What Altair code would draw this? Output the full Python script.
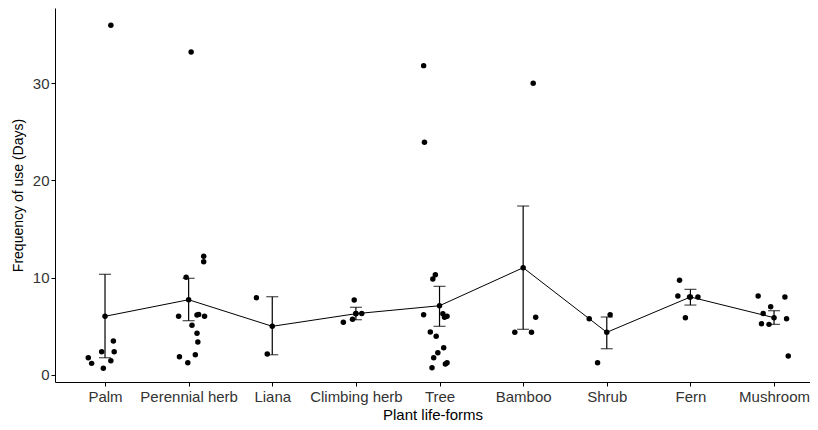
import altair as alt
import pandas as pd

categories = ["Palm", "Perennial herb", "Liana", "Climbing herb", "Tree",
              "Bamboo", "Shrub", "Fern", "Mushroom"]

# observed values per life-form (days) and their horizontal jitter (category units)
palm_vals = [36.0, 1.73, 1.15, 0.64, 2.35, 1.42, 2.35, 3.45]
palm_jit = [0.07, -0.20, -0.16, -0.02, -0.04, 0.07, 0.11, 0.10]
herb_vals = [33.25, 10.02, 12.2, 11.63, 6.0, 6.13, 6.2, 6.0, 5.07, 4.25, 3.35, 1.84, 2.04, 1.22]
herb_jit = [0.03, -0.03, 0.18, 0.18, -0.12, 0.10, 0.12, 0.19, 0.04, 0.10, 0.11, -0.11, 0.08, -0.01]
liana_vals = [7.92, 2.11]
liana_jit = [-0.19, -0.06]
climb_vals = [7.68, 5.38, 5.69, 6.3, 6.3]
climb_jit = [-0.02, -0.15, -0.04, 0.0, 0.07]
tree_vals = [31.84, 23.94, 10.29, 9.85, 6.17, 6.27, 6.0, 5.9, 4.38, 3.94, 2.77, 2.25, 1.73, 1.22, 1.08, 0.7]
tree_jit = [-0.19, -0.18, -0.05, -0.08, -0.19, 0.04, 0.09, 0.06, -0.11, -0.04, 0.05, -0.02, -0.07, 0.09, 0.07, -0.09]
bamboo_vals = [30.02, 5.9, 4.35, 4.35]
bamboo_jit = [0.12, 0.15, -0.10, 0.10]
shrub_vals = [5.75, 6.17, 1.22]
shrub_jit = [-0.21, 0.04, -0.11]
fern_vals = [9.71, 8.09, 7.99, 7.99, 5.86]
fern_jit = [-0.13, -0.15, -0.01, 0.09, -0.06]
mush_vals = [8.09, 7.99, 6.99, 6.3, 5.75, 5.24, 5.17, 1.91]
mush_jit = [-0.19, 0.13, -0.04, -0.13, 0.15, -0.15, -0.06, 0.17]

# mean and mean +/- standard error per life-form
means = [6.0, 7.71, 4.97, 6.27, 7.09, 11.01, 4.35, 7.99, 5.86]
lower = [1.73, 5.55, 2.04, 5.65, 4.97, 4.66, 2.66, 7.16, 5.17]
upper = [10.33, 9.92, 8.02, 6.93, 9.09, 17.37, 5.93, 8.78, 6.58]

all_vals = [palm_vals, herb_vals, liana_vals, climb_vals, tree_vals,
            bamboo_vals, shrub_vals, fern_vals, mush_vals]
all_jit = [palm_jit, herb_jit, liana_jit, climb_jit, tree_jit,
           bamboo_jit, shrub_jit, fern_jit, mush_jit]

rows = []
for i, (vals, jits) in enumerate(zip(all_vals, all_jit)):
    for v, j in zip(vals, jits):
        rows.append({"form": categories[i], "pos": i + 1 + j, "days": v})
pts = pd.DataFrame(rows)

summ = pd.DataFrame({
    "form": categories,
    "pos": list(range(1, len(categories) + 1)),
    "mean": means,
    "lo": lower,
    "hi": upper,
})

label_js = "[" + ",".join('"%s"' % c for c in categories) + "]"

xscale = alt.Scale(domain=[0.402, 9.43], nice=False, zero=False)
yscale = alt.Scale(domain=[-0.77, 37.78], nice=False, zero=False)

FONT = "Liberation Sans"
xaxis = alt.Axis(values=list(range(1, 10)), labelExpr=label_js + "[datum.value - 1]",
                 title="Plant life-forms", grid=False, tickSize=4, tickColor="black",
                 domainColor="black", labelColor="#333333", labelFontSize=15,
                 labelFont=FONT, titleFont=FONT,
                 titleFontSize=15, titleFontWeight="normal", titleColor="black",
                 labelPadding=3, titlePadding=3, labelFlush=False)
yaxis = alt.Axis(values=[0, 10, 20, 30], title="Frequency of use (Days)", grid=False,
                 tickSize=4, tickColor="black", domainColor="black",
                 labelColor="#333333", labelFontSize=15, labelFont=FONT,
                 titleFont=FONT, titleFontSize=14,
                 titleFontWeight="normal", titleColor="black", labelPadding=2,
                 titlePadding=7)

points = alt.Chart(pts).mark_circle(size=30, color="black", opacity=1).encode(
    x=alt.X("pos:Q", scale=xscale, axis=xaxis),
    y=alt.Y("days:Q", scale=yscale, axis=yaxis),
)

base = alt.Chart(summ)
line = base.mark_line(color="black", strokeWidth=1).encode(
    x=alt.X("pos:Q", scale=xscale), y=alt.Y("mean:Q", scale=yscale))
bars = base.mark_rule(color="black", strokeWidth=1.2).encode(
    x=alt.X("pos:Q", scale=xscale), y=alt.Y("lo:Q", scale=yscale), y2="hi:Q")
cap_lo = base.mark_tick(orient="horizontal", size=12, thickness=1.2, color="black").encode(
    x=alt.X("pos:Q", scale=xscale), y=alt.Y("lo:Q", scale=yscale))
cap_hi = base.mark_tick(orient="horizontal", size=12, thickness=1.2, color="black").encode(
    x=alt.X("pos:Q", scale=xscale), y=alt.Y("hi:Q", scale=yscale))
mean_pts = base.mark_circle(size=30, color="black", opacity=1).encode(
    x=alt.X("pos:Q", scale=xscale), y=alt.Y("mean:Q", scale=yscale))

chart = alt.layer(points, line, bars, cap_lo, cap_hi, mean_pts).properties(
    width=755, height=374,
    autosize=alt.AutoSizeParams(type="none"),
    padding={"left": 47, "top": 0, "right": 0, "bottom": 40},
    background="white",
).configure_view(stroke=None)

chart.save("out.html", embed_options={"renderer": "svg", "actions": False})
